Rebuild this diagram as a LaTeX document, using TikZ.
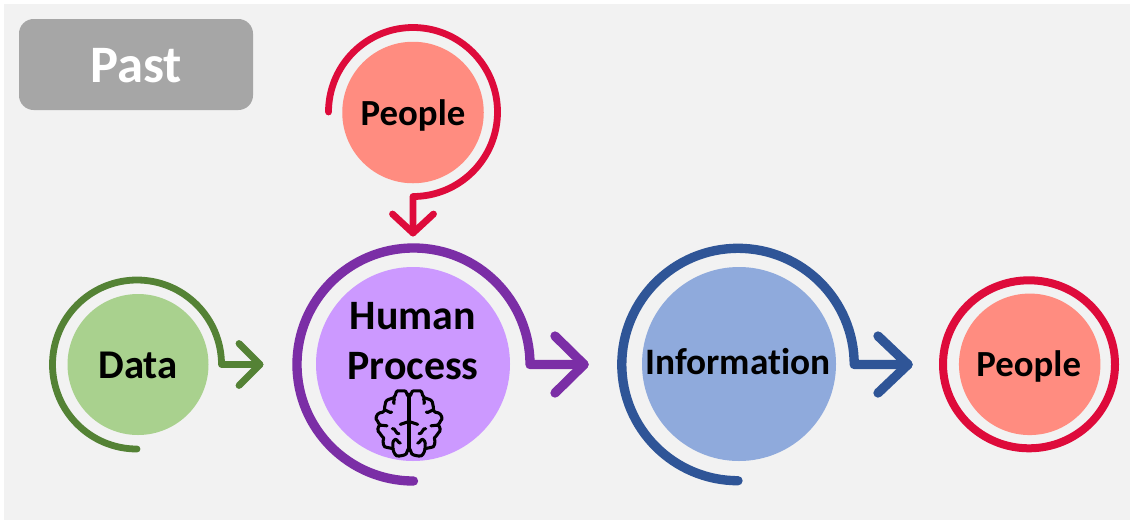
\documentclass[tikz,border=0pt]{standalone}
\usepackage{fontspec}
\usetikzlibrary{calc}
\setmainfont[Ligatures=NoCommon]{Carlito}
\definecolor{bgc}{HTML}{F2F2F2}
\definecolor{pastc}{HTML}{A6A6A6}
\definecolor{redc}{HTML}{DE0B3B}
\definecolor{salmon}{HTML}{FF8C80}
\definecolor{greenc}{HTML}{548235}
\definecolor{greenf}{HTML}{A9D18E}
\definecolor{purc}{HTML}{7B2EA6}
\definecolor{purf}{HTML}{CC99FF}
\definecolor{bluec}{HTML}{2F5597}
\definecolor{bluef}{HTML}{8FAADC}
\tikzset{
  disc/.style={circle,draw=none,inner sep=0pt,minimum size=#1*0.75pt},
  lab/.style={font=\bfseries\fontsize{#1}{#1}\selectfont,text=black,inner sep=0pt,anchor=base},
  thin ring/.style={line width=5.1pt,line cap=round,line join=round,fill=none},
  thick ring/.style={line width=7pt,line cap=round,line join=round,fill=none},
  brainline/.style={line width=2.3pt,line cap=round,line join=round,draw=black},
}
\begin{document}
\begin{tikzpicture}[x=0.75pt,y=-0.75pt]
\useasboundingbox (0,0) rectangle (1130,522);
\fill[white] (0,0) rectangle (1130,522);
\fill[bgc] (4,4) rectangle (1130,520);
% Past
\node[draw=none,fill=pastc,rounded corners=11pt,minimum width=234*0.75pt,minimum height=91*0.75pt,inner sep=0pt] (past) at (136,64.5) {};
\node[lab=39.5,text=white] (pastt) at (136,82) {Past};
% discs
\node[disc=141.5,fill=salmon] (peopleA) at (413,112.5) {};
\node[lab=27.6] (peopleAt) at (413,125) {People};
\node[disc=141,fill=greenf] (data) at (138,364.5) {};
\node[lab=30.6] (datat) at (138,378) {Data};
\node[disc=194,fill=purf] (human) at (413,364) {};
\node[lab=31.4] (humant1) at (413,329) {Human};
\node[lab=31.4] (humant2) at (413,379) {Process};
\node[disc=194,fill=bluef] (info) at (739,364) {};
\node[lab=28] (infot) at (738,374) {Information};
\node[disc=141.5,fill=salmon] (peopleB) at (1029.7,364.3) {};
\node[lab=27.6] (peopleBt) at (1028.7,376.7) {People};
% rings and connectors
\coordinate (paS) at (328.5,112);
\coordinate (paTip) at (413,233);
\draw[thin ring,draw=redc] (paS) arc[start angle=180,end angle=450,radius=84.5] -- (paTip);
\draw[thin ring,draw=redc] ($(paTip)+(-20.5,-19)$) -- (paTip) -- ($(paTip)+(20.5,-19)$);
\coordinate (dS) at (137,449);
\coordinate (dTip) at (260,364.5);
\draw[thin ring,draw=greenc] (dS) arc[start angle=90,end angle=360,radius=84.5] -- (dTip);
\draw[thin ring,draw=greenc] ($(dTip)+(-21,-21)$) -- (dTip) -- ($(dTip)+(-21,21)$);
\coordinate (hS) at (413.5,481);
\coordinate (hTip) at (584,364.5);
\draw[thick ring,draw=purc] (hS) arc[start angle=90,end angle=360,radius=116.5] -- (hTip);
\draw[thick ring,draw=purc] ($(hTip)+(-29,-28.5)$) -- (hTip) -- ($(hTip)+(-29,28.5)$);
\coordinate (iS) at (738,480.7);
\coordinate (iTip) at (908,364.5);
\draw[thick ring,draw=bluec] (iS) arc[start angle=90,end angle=360,radius=116.2] -- (iTip);
\draw[thick ring,draw=bluec] ($(iTip)+(-30,-28.5)$) -- (iTip) -- ($(iTip)+(-30,28.5)$);
\draw[line width=6pt,draw=redc,fill=none] ($(peopleB)+(-0.7,0)$) ellipse[x radius=86,y radius=84];
% brain icon, half drawn twice about its central axis
\begin{scope}[shift={(409,421.5)},x=0.25pt,y=-0.27pt]
 \foreach \mir in {1,-1}{
  \begin{scope}[xscale=\mir]
   \draw[brainline]
     (0,-70) to[out=180,in=20] (-14,-85) to[out=200,in=60] (-38,-82)
     to[out=240,in=30] (-46,-66) to[out=210,in=70] (-70,-54)
     to[out=250,in=80] (-74,-30) to[out=260,in=20] (-88,-24)
     to[out=200,in=150] (-95,-2) to[out=330,in=180] (-86,10)
     to[out=200,in=150] (-88,32) to[out=330,in=160] (-76,46)
     to[out=250,in=190] (-66,72) to[out=10,in=180] (-48,76)
     to[out=280,in=190] (-30,96) to[out=10,in=270] (-6,84) -- (0,72);
   \draw[brainline] (-46,-66) to[out=330,in=170] (-44,-50);
   \draw[brainline] (-72,-32) to[out=0,in=210] (-52,-26);
   \draw[brainline] (-86,10) to[out=0,in=180] (-66,12);
   \draw[brainline] (-48,76) to[out=90,in=210] (-42,50) to[out=30,in=180] (-26,60);
   \draw[brainline] (-50,20) to[out=30,in=200] (-30,34);
   \draw[brainline] (-26,8) to[out=20,in=200] (0,0);
  \end{scope}
 }
 \draw[brainline] (0,-76) -- (0,80);
\end{scope}
\end{tikzpicture}
\end{document}
